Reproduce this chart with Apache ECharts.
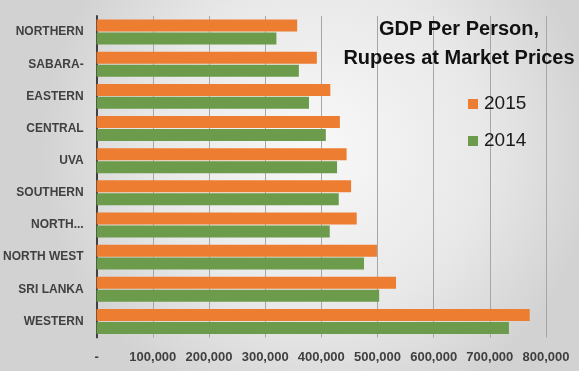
<!DOCTYPE html>
<html>
<head>
<meta charset="utf-8">
<script src="https://cdn.jsdelivr.net/npm/echarts@6/dist/echarts.min.js"></script>
<style>
html,body{margin:0;padding:0;background:#fff;}
#chart{width:579px;height:371px;}
</style>
</head>
<body>
<div id="chart"></div>
<script>
const categories = ['NORTHERN','SABARA-','EASTERN','CENTRAL','UVA','SOUTHERN','NORTH...','NORTH WEST','SRI LANKA','WESTERN'];
const values2015 = [357000, 392000, 416000, 433000, 445000, 453000, 463000, 499000, 533000, 771000];
const values2014 = [320000, 360000, 378000, 408000, 428000, 431000, 415000, 476000, 503000, 734000];
const seriesNames = ['2015', '2014'];
const titleText = 'GDP Per Person,\nRupees at Market Prices';

const chart = echarts.init(document.getElementById('chart'), null, {renderer:'canvas'});
const font = 'Liberation Sans';
chart.setOption({
  animation: false,
  backgroundColor: {
    type: 'radial', x: 0.55, y: 0.4, r: 0.75,
    colorStops: [{offset: 0, color: '#f8f8f8'}, {offset: 0.6, color: '#e8e8e8'}, {offset: 1, color: '#d2d2d2'}]
  },
  title: {
    text: titleText,
    left: 454, top: 10, textAlign: 'center',
    textStyle: {fontFamily: font, fontWeight: 'bold', fontSize: 20, color: '#111', lineHeight: 29}
  },
  legend: {
    orient: 'vertical', left: 463, top: 89,
    itemWidth: 10, itemHeight: 10, itemGap: 17,
    icon: 'rect',
    data: seriesNames,
    textStyle: {fontFamily: font, fontSize: 19, color: '#1a1a1a', lineHeight: 20, padding: [0,0,0,1]}
  },
  grid: {left: 95, right: 33, top: 16, bottom: 33.5, containLabel: false},
  xAxis: {
    type: 'value', min: 0, max: 800000, interval: 100000,
    axisLine: {show: false}, axisTick: {show: false},
    splitLine: {show: true, lineStyle: {color: '#a6a6a6', width: 1}},
    axisLabel: {
      margin: 13,
      fontFamily: font, fontWeight: 'bold', fontSize: 13, color: '#404040',
      formatter: v => v === 0 ? '-' : v.toLocaleString('en-US')
    }
  },
  yAxis: {
    type: 'category', data: categories, inverse: true,
    axisLine: {show: true, lineStyle: {color: '#404040', width: 2}},
    axisTick: {show: false},
    axisLabel: {margin: 13, fontFamily: font, fontWeight: 'bold', fontSize: 12, color: '#404040'}
  },
  series: [
    {name: seriesNames[0], type: 'bar', data: values2015, barWidth: 12, barGap: '8%', itemStyle: {color: '#ED7D31'}},
    {name: seriesNames[1], type: 'bar', data: values2014, barWidth: 12, barGap: '8%', itemStyle: {color: '#6B9B4B'}}
  ]
});
</script>
</body>
</html>
